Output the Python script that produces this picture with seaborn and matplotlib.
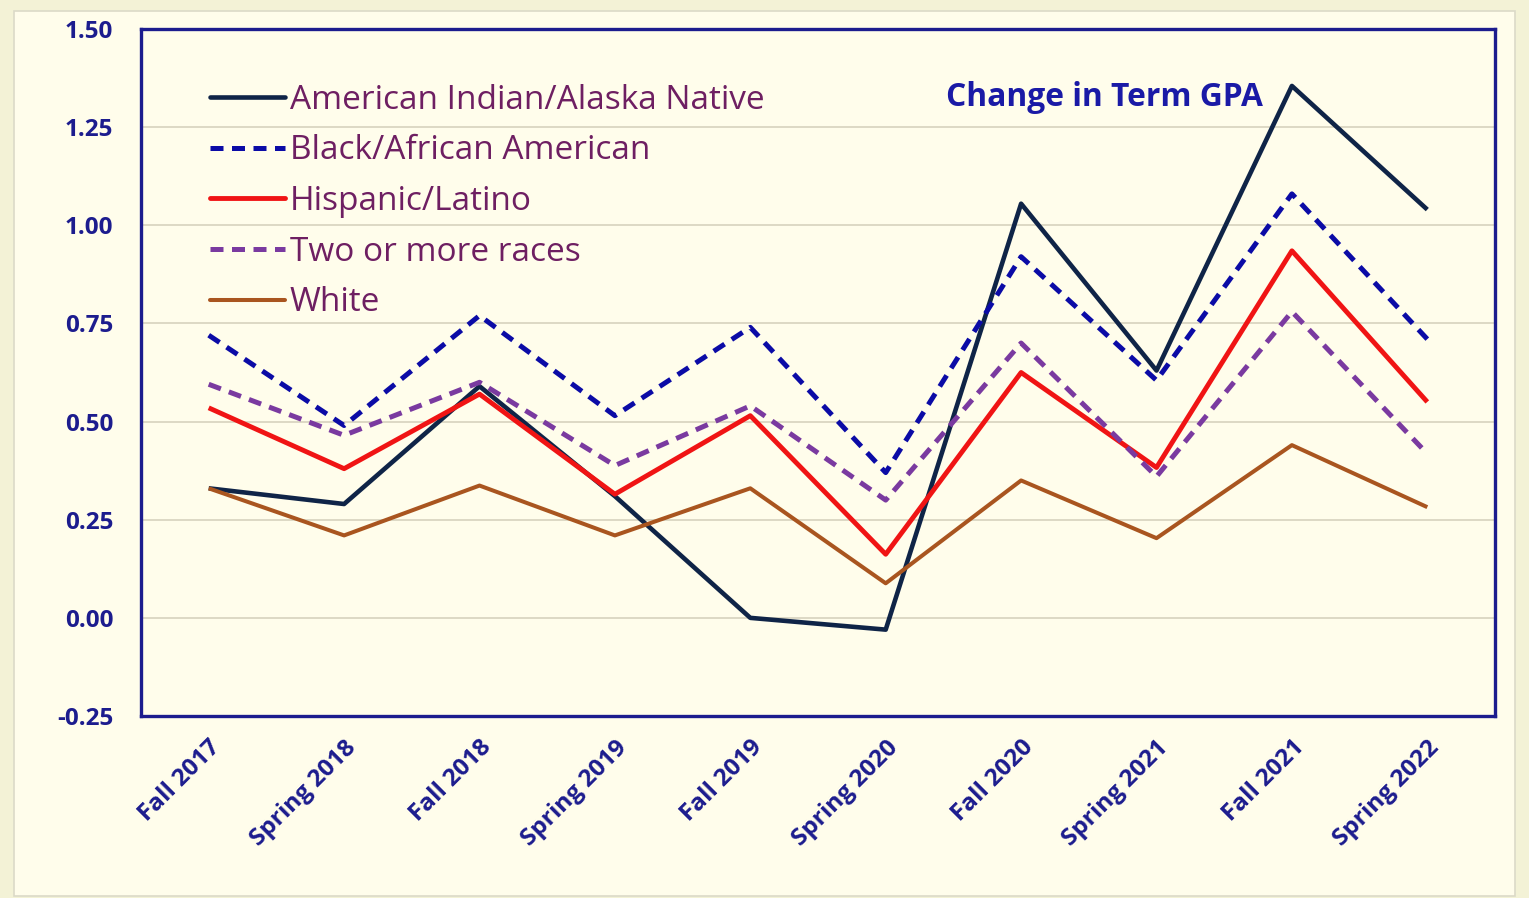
import pandas as pd
import matplotlib

matplotlib.use("Agg")
import matplotlib.pyplot as plt
import seaborn as sns
from matplotlib.patches import Rectangle

# =========================
# Data
# =========================
terms = [
    "Fall 2017", "Spring 2018", "Fall 2018", "Spring 2019", "Fall 2019",
    "Spring 2020", "Fall 2020", "Spring 2021", "Fall 2021", "Spring 2022",
]
aian = [0.33, 0.29, 0.59, 0.31, 0.00, -0.03, 1.055, 0.63, 1.355, 1.04]
black = [0.72, 0.49, 0.77, 0.515, 0.74, 0.37, 0.92, 0.605, 1.08, 0.71]
hispanic = [0.535, 0.38, 0.57, 0.315, 0.515, 0.162, 0.625, 0.383, 0.935, 0.55]
two_plus = [0.595, 0.465, 0.60, 0.388, 0.54, 0.30, 0.70, 0.36, 0.78, 0.418]
white = [0.33, 0.21, 0.337, 0.21, 0.33, 0.088, 0.35, 0.203, 0.44, 0.282]

groups = [
    "American Indian/Alaska Native",
    "Black/African American",
    "Hispanic/Latino",
    "Two or more races",
    "White",
]
series = [aian, black, hispanic, two_plus, white]
y_ticks = [-0.25, 0.0, 0.25, 0.5, 0.75, 1.0, 1.25, 1.5]

# long table for seaborn
df = pd.DataFrame(
    [(g, t, v) for g, vals in zip(groups, series) for t, v in zip(terms, vals)],
    columns=["group", "term", "gpa_change"],
)

# =========================
# Styling
# =========================
palette = {
    groups[0]: "#0F2447",
    groups[1]: "#0B0BA6",
    groups[2]: "#F01414",
    groups[3]: "#7A3AA0",
    groups[4]: "#A9551F",
}
dashes = {
    groups[0]: "",
    groups[1]: (2.6, 1.7),
    groups[2]: "",
    groups[3]: (2.6, 1.7),
    groups[4]: "",
}
widths = {groups[0]: 3.3, groups[1]: 3.6, groups[2]: 3.5, groups[3]: 3.6, groups[4]: 2.9}

panel_bg = "#FFFDEB"
outer_bg = "#F3F2D6"
axis_blue = "#1C1C8E"
legend_text = "#6E1F62"

sns.set_theme(style="white")
plt.rcParams["font.family"] = ["Open Sans", "DejaVu Sans"]

fig = plt.figure(figsize=(15.29, 8.98), dpi=100)
fig.patch.set_facecolor(outer_bg)
# inner panel with a thin grey border (behind the axes)
panel = Rectangle((14 / 1529, 2 / 898), 1501 / 1529, 885 / 898,
                  transform=fig.transFigure, facecolor=panel_bg,
                  edgecolor="#DCDAC8", linewidth=1.2, zorder=-10)
fig.add_artist(panel)

ax = fig.add_axes([141 / 1529, 1 - 716 / 898, 1354 / 1529, 687 / 898])
ax.set_zorder(1)
ax.set_facecolor(panel_bg)

sns.lineplot(
    data=df, x="term", y="gpa_change", hue="group", style="group",
    palette=palette, dashes=dashes, sort=False, ax=ax, legend=True,
)

# per-series line widths
for line, g in zip(ax.get_lines(), groups):
    line.set_linewidth(widths[g])
    line.set_solid_capstyle("butt")
    line.set_dash_capstyle("butt")

# --- axes limits, grid, frame ---
ax.set_xlim(-0.5, len(terms) - 0.5)
ax.set_ylim(-0.25, 1.5)
ax.set_yticks(y_ticks)
ax.set_yticklabels([f"{v:.2f}" for v in y_ticks])
ax.yaxis.grid(True, color="#DAD6C2", linewidth=1.3)
ax.xaxis.grid(False)
ax.set_axisbelow(True)
for sp in ax.spines.values():
    sp.set_color(axis_blue)
    sp.set_linewidth(2.4)
ax.tick_params(axis="both", length=0)
ax.tick_params(axis="y", pad=20)
ax.set_xlabel("")
ax.set_ylabel("")

for lab in ax.get_yticklabels():
    lab.set_fontsize(17.5)
    lab.set_fontweight("bold")
    lab.set_color(axis_blue)
ax.set_xticks(range(len(terms)))
ax.set_xticklabels(terms, rotation=45, ha="right", va="top",
                   rotation_mode="anchor", fontsize=17.5, fontweight="bold",
                   color=axis_blue)
ax.tick_params(axis="x", pad=14)

# --- legend ---
handles, labels = ax.get_legend_handles_labels()
for h, lab in zip(handles, labels):
    if lab in widths:
        h.set_linewidth(widths[lab])
leg = ax.legend(
    handles, labels, loc="upper left", bbox_to_anchor=(0.041, 0.94),
    frameon=False, fontsize=24, handlelength=2.25, handletextpad=0.15,
    labelspacing=0.53, borderaxespad=0,
)
for t in leg.get_texts():
    t.set_color(legend_text)

# --- chart title inside plot ---
ax.text(0.5945, 0.8996, "Change in Term GPA", transform=ax.transAxes,
        fontsize=22.9, fontweight="bold", color="#1A1AA6", ha="left", va="center")

fig.savefig("out.png", dpi=100, facecolor=fig.get_facecolor())
